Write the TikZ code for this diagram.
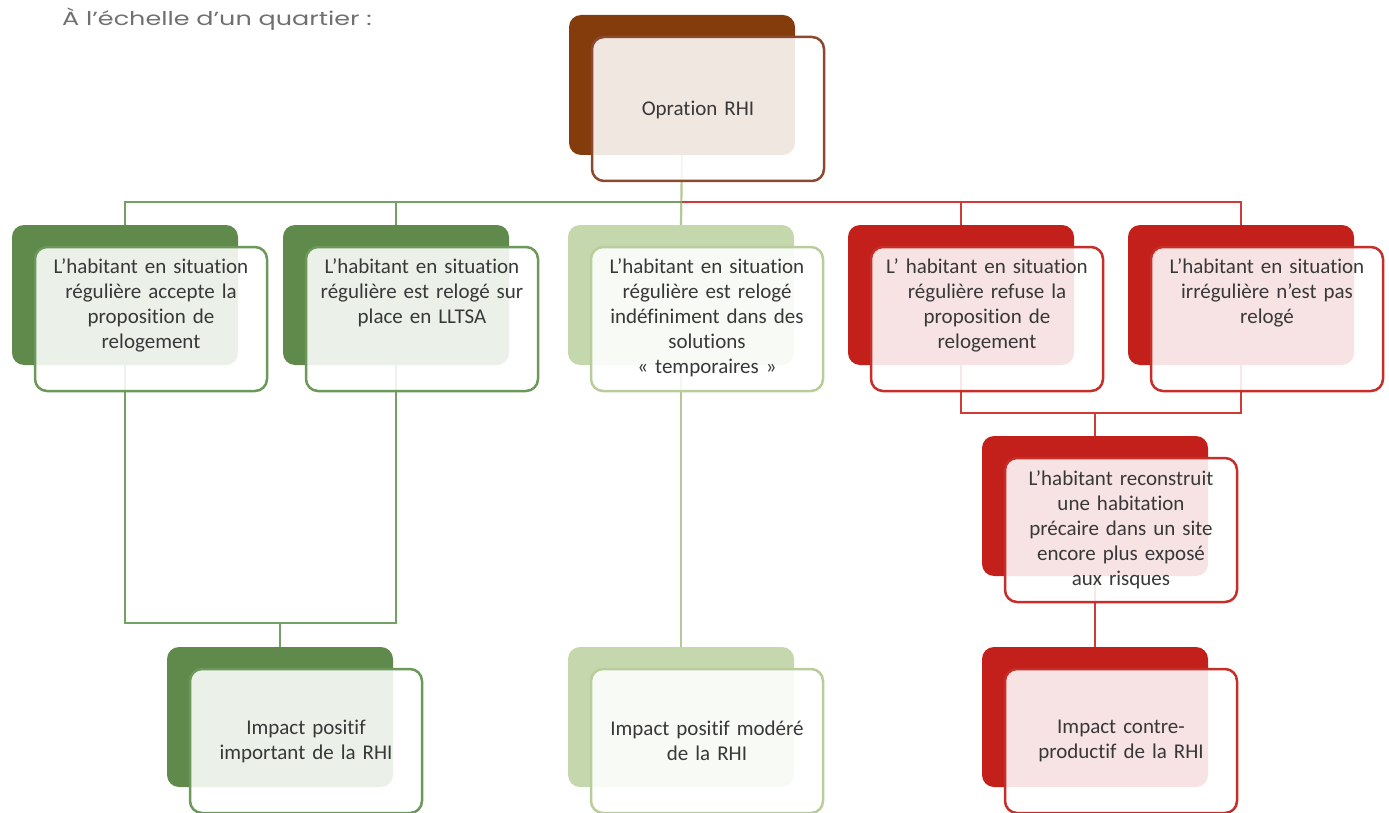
\documentclass[tikz,border=0pt]{standalone}
\usepackage{fontspec}
\setmainfont{Carlito}[Ligatures=NoCommon]
\newfontfamily\titrefont{Poppins}[FakeStretch=1.34]
\usetikzlibrary{positioning}

\definecolor{brun}{HTML}{843C0C}
\definecolor{brunbord}{HTML}{8B4A2F}
\definecolor{vert}{HTML}{5F8A4C}
\definecolor{vertbord}{HTML}{6C9859}
\definecolor{vertclair}{HTML}{C5D7AD}
\definecolor{vertclairbord}{HTML}{B8CC9C}
\definecolor{rouge}{HTML}{C3201B}
\definecolor{rougebord}{HTML}{C52E29}
\definecolor{lienvert}{HTML}{73A065}
\definecolor{lienclair}{HTML}{B3C896}
\definecolor{lienrouge}{HTML}{D03B35}
\definecolor{gristexte}{HTML}{383838}
\definecolor{gristitre}{HTML}{707070}

\tikzset{
  backbox/.style={rectangle, rounded corners=12pt, minimum width=226pt, minimum height=140pt, inner sep=0pt},
  frontbox/.style={rectangle, rounded corners=12pt, draw, line width=2.5pt, fill=white, fill opacity=0.88, minimum width=232pt, minimum height=144pt, inner sep=0pt},
  boxtext/.style={text width=224pt, align=center, inner sep=0pt, font=\fontsize{21}{25}\selectfont, text=gristexte},
  lien/.style={line width=2.2pt}
}

\begin{document}
\begin{tikzpicture}[x=1pt,y=-1pt]
\useasboundingbox (0,0) rectangle (1389,813);

\node (titre) at (62,26)[anchor=base west, inner sep=0pt, text=gristitre, font=\titrefont\fontsize{19}{21}\selectfont]{À l’échelle d’un quartier :};

% fonds des boites
\node (b0) at (682,85)[backbox, fill=brun]{};
\node (b1) at (125,295)[backbox, fill=vert]{};
\node (b2) at (396,295)[backbox, fill=vert]{};
\node (b3) at (681,295)[backbox, fill=vertclair]{};
\node (b4) at (961,295)[backbox, fill=rouge]{};
\node (b5) at (1241,295)[backbox, fill=rouge]{};
\node (b6) at (1095,506)[backbox, fill=rouge]{};
\node (b7) at (280,717)[backbox, fill=vert]{};
\node (b8) at (681,717)[backbox, fill=vertclair]{};
\node (b9) at (1095,717)[backbox, fill=rouge]{};

\coordinate (hub) at (682,202);
\coordinate (jrouge) at (1095,413);
\coordinate (jvert) at (280,623);

% liaisons
\draw[lien, lienclair] (b0.south) -- (b3.north);
\draw[lien, lienvert] (b1.north) |- (hub);
\draw[lien, lienvert] (b2.north) -- (b2.north |- hub);
\draw[lien, lienrouge] (b5.north) |- (hub);
\draw[lien, lienrouge] (b4.north) -- (b4.north |- hub);
\draw[lien, lienrouge] (b4.south) |- (jrouge) -| (b5.south);
\draw[lien, lienrouge] (jrouge) -- (b6.north);
\draw[lien, lienrouge] (b6.south) -- (b9.north);
\draw[lien, lienvert] (b1.south) |- (jvert) -| (b2.south);
\draw[lien, lienvert] (jvert) -- (b7.north);
\draw[lien, lienclair] (b3.south) -- (b8.north);

% boites de devant
\node (f0) at (708,109)[frontbox, draw=brunbord]{};
\node (f1) at (151,319)[frontbox, draw=vertbord]{};
\node (f2) at (422,319)[frontbox, draw=vertbord]{};
\node (f3) at (707,319)[frontbox, draw=vertclairbord]{};
\node (f4) at (987,319)[frontbox, draw=rougebord]{};
\node (f5) at (1267,319)[frontbox, draw=rougebord]{};
\node (f6) at (1121,530)[frontbox, draw=rougebord]{};
\node (f7) at (306,741)[frontbox, draw=vertbord]{};
\node (f8) at (707,741)[frontbox, draw=vertclairbord]{};
\node (f9) at (1121,741)[frontbox, draw=rougebord]{};

% textes
\node (t0) at (698,110)[boxtext]{Opration RHI};
\node (t1) [boxtext, below=13pt of f1.north]{L’habitant en situation\\régulière accepte la\\proposition de\\relogement};
\node (t2) [boxtext, below=13pt of f2.north]{L’habitant en situation\\régulière est relogé sur\\place en LLTSA};
\node (t3) [boxtext, below=13pt of f3.north]{L’habitant en situation\\régulière est relogé\\indéfiniment dans des\\solutions\\« temporaires »};
\node (t4) [boxtext, below=13pt of f4.north]{L’ habitant en situation\\régulière refuse la\\proposition de\\relogement};
\node (t5) [boxtext, below=13pt of f5.north]{L’habitant en situation\\irrégulière n’est pas\\relogé};
\node (t6) at (f6)[boxtext]{L’habitant reconstruit\\une habitation\\précaire dans un site\\encore plus exposé\\aux risques};
\node (t7) at (f7)[boxtext]{Impact positif\\important de la RHI};
\node (t8) at (f8)[boxtext]{Impact positif modéré\\de la RHI};
\node (t9) at (f9)[boxtext]{Impact contre-\\productif de la RHI};

\end{tikzpicture}
\end{document}
